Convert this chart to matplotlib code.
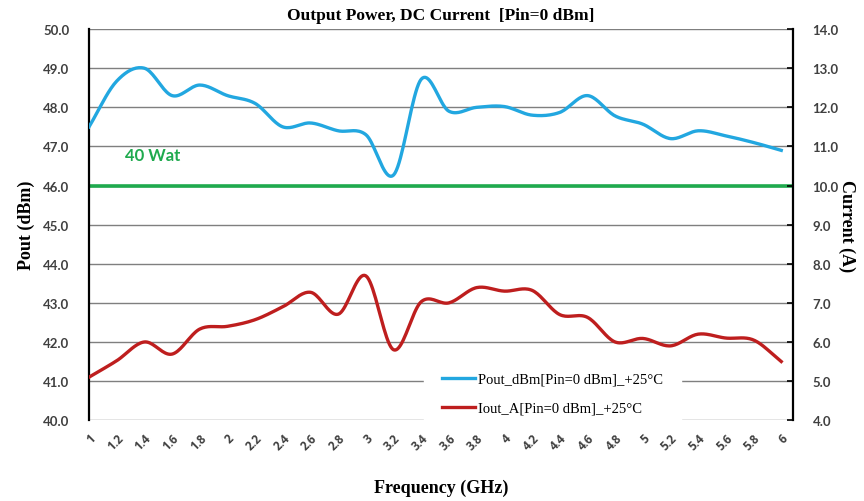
import numpy as np
import matplotlib.pyplot as plt

freq = ['1', '1.2', '1.4', '1.6', '1.8', '2', '2.2', '2.4', '2.6', '2.8', '3', '3.2', '3.4',
        '3.6', '3.8', '4', '4.2', '4.4', '4.6', '4.8', '5', '5.2', '5.4', '5.6', '5.8', '6']
pout = [47.5, 48.67, 49.0, 48.3, 48.57, 48.3, 48.1, 47.5, 47.6, 47.4, 47.3, 46.27, 48.72,
        47.9, 48.0, 48.02, 47.8, 47.87, 48.3, 47.78, 47.57, 47.2, 47.4, 47.27, 47.1, 46.9]
iout = [5.1, 5.52, 6.0, 5.69, 6.33, 6.4, 6.57, 6.9, 7.27, 6.71, 7.69, 5.8, 7.03,
        7.0, 7.39, 7.3, 7.32, 6.7, 6.63, 6.0, 6.09, 5.9, 6.2, 6.1, 6.05, 5.5]
ref_level = 46.0


def smooth(y, n=20):
    # catmull-rom curve through the points, like excel's smoothed line
    y = np.asarray(y, float)
    p = np.concatenate([[2 * y[0] - y[1]], y, [2 * y[-1] - y[-2]]])
    xs, ys = [], []
    t = np.linspace(0, 1, n, endpoint=False)
    for i in range(len(y) - 1):
        p0, p1, p2, p3 = p[i], p[i + 1], p[i + 2], p[i + 3]
        ys.append(0.5 * ((2 * p1) + (-p0 + p2) * t + (2 * p0 - 5 * p1 + 4 * p2 - p3) * t ** 2
                         + (-p0 + 3 * p1 - 3 * p2 + p3) * t ** 3))
        xs.append(i + t)
    xs.append([len(y) - 1])
    ys.append([y[-1]])
    return np.concatenate(xs), np.concatenate(ys)


fig = plt.figure(figsize=(8.64, 5.02), dpi=100)
ax = fig.add_axes([0.103, 0.161, 0.815, 0.779])
ax2 = ax.twinx()

x = np.arange(len(freq))
blue = '#22a7e0'
red = '#be1e1e'
green = '#1faa4e'

ax.set_ylim(40, 50)
ax.set_xlim(0, len(freq) - 1 + 0.43)
ax2.set_ylim(4, 14)
ax.set_yticks(np.arange(40, 50.5, 1))
ax.set_yticklabels([f'{v:.1f}' for v in np.arange(40, 50.5, 1)])
ax2.set_yticks(np.arange(4, 14.5, 1))
ax2.set_yticklabels([f'{v:.1f}' for v in np.arange(4, 14.5, 1)])

for v in np.arange(40, 50.5, 1):
    ax.axhline(v, color='#7f7f7f', lw=1.0, zorder=0)

ax.axhline(ref_level, color=green, lw=2.6, zorder=2)
ax.text(1.3, 46.65, '40 Wat', color=green, fontsize=12, fontweight='bold', family='Lato')

sx, sy = smooth(pout)
l1, = ax.plot(sx, sy, color=blue, lw=2.4, zorder=3, label='Pout_dBm[Pin=0 dBm]_+25°C')
sx, sy = smooth(iout)
l2, = ax2.plot(sx, sy, color=red, lw=2.4, zorder=3, label='Iout_A[Pin=0 dBm]_+25°C')

ax.set_xticks(x)
ax.set_xticklabels(freq, rotation=45, ha='right', va='top', rotation_mode='anchor',
                   fontsize=8.5, fontweight='bold', color='#404040', family='Open Sans')
ax.tick_params(axis='x', length=0, pad=8)
ax.tick_params(axis='y', length=0, pad=14, labelsize=9.5, labelcolor='#404040')
ax2.tick_params(axis='y', length=4, width=1.2, direction='in', pad=14, labelsize=9.5, labelcolor='#404040')
for lab in ax.get_yticklabels() + ax2.get_yticklabels():
    lab.set_fontweight('bold')
    lab.set_family('Lato')

for a in (ax, ax2):
    for s in ['top', 'bottom']:
        a.spines[s].set_visible(False)
ax2.spines['left'].set_visible(False)
ax.spines['right'].set_visible(False)
ax.spines['left'].set_linewidth(1.6)
ax2.spines['right'].set_linewidth(1.6)

ax.set_ylabel('Pout (dBm)', fontsize=13, fontweight='bold', family='Liberation Serif', labelpad=6)
ax2.set_ylabel('Current (A)', fontsize=13, fontweight='bold', family='Liberation Serif',
               rotation=-90, labelpad=12)
ax.set_xlabel('Frequency (GHz)', fontsize=13, fontweight='bold', family='Liberation Serif', labelpad=19)
fig.suptitle('Output Power, DC Current  [Pin=0 dBm]', x=0.51, y=0.985, fontsize=12.5,
             fontweight='bold', family='Liberation Serif')

leg = ax2.legend(handles=[l1, l2], loc='lower left', bbox_to_anchor=(0.466, -0.05),
                 frameon=True, fancybox=False, framealpha=1, edgecolor='white',
                 prop={'family': 'Liberation Serif', 'size': 10.5},
                 handlelength=2.3, handletextpad=0.2, labelspacing=1.1, borderpad=1.2)
leg.set_zorder(5)

fig.savefig('out.png', dpi=100)
